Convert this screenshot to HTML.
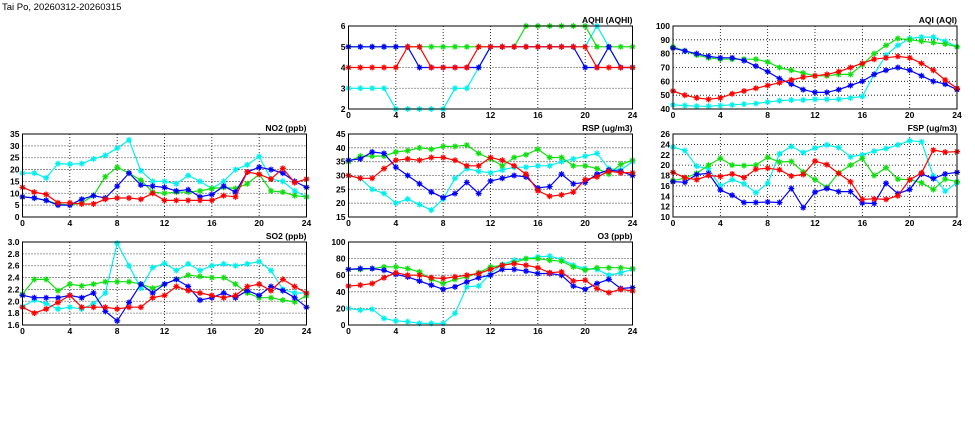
<!DOCTYPE html>
<html><head><meta charset="utf-8"><style>
html,body{margin:0;padding:0;background:#fff;width:975px;height:447px;overflow:hidden}
svg text{font-family:"Liberation Sans",sans-serif;font-size:8.5px;font-weight:bold;fill:#000}
</style></head><body>
<svg id="s" width="975" height="447" xmlns="http://www.w3.org/2000/svg">
<text x="2" y="10" style="font-weight:normal;font-size:9.5px">Tai Po, 20260312-20260315</text>
</svg>
<script>
const S=document.getElementById('s'),NS='http://www.w3.org/2000/svg';
function el(t,a,txt){const e=document.createElementNS(NS,t);for(const k in a)e.setAttribute(k,a[k]);if(txt!==undefined)e.textContent=txt;S.appendChild(e);return e;}
const C={c:'#00f0f0',g:'#10e010',b:'#0000ff',r:'#ff0000'};
const P=[
{x:348.5,y:26,t:'AQHI (AQHI)',min:2,max:6,step:1,dec:0,d:{
c:[3,3,3,3,2,2,2,2,2,3,3,4,5,5,5,5,5,5,5,5,5,6,5,4,4],
g:[5,5,5,5,5,5,5,5,5,5,5,5,5,5,5,6,6,6,6,6,6,5,5,5,5],
b:[5,5,5,5,5,5,4,4,4,4,4,4,5,5,5,5,5,5,5,5,4,4,5,4,4],
r:[4,4,4,4,4,5,5,4,4,4,4,5,5,5,5,5,5,5,5,5,5,4,4,4,4]}},
{x:673,y:26,t:'AQI (AQI)',min:40,max:100,step:10,dec:0,d:{
c:[43,42.5,42,42,42.5,43,43.5,44,45,46,46.5,46.5,47,47,47,48,49,65,79,86,91,92,92,89,85],
g:[85,82,79,77,76,76,76,76,74,70,68,66,64,64,65,65,72,80,86,91,90,89,88,87,85],
b:[84,82,80,78,77,77,75,71,67,62,58,54,52,52,54,57,60,65,68,70,68,64,60,58,54],
r:[53,50,48,47,48,51,53,55,57,59,61,63,64,65,67,70,73,76,77,78,77,73,68,61,55]}},
{x:22.5,y:134,t:'NO2 (ppb)',min:0,max:35,step:5,dec:0,d:{
c:[18.5,18.5,16.5,22.5,22.3,22.5,24.5,26,29,32.5,19.5,15,15,14,17.5,15,12,15,20,22,25.5,16,15,11,8.5],
g:[8.5,8,7,5.5,5,6,9,17,21,18.5,15.5,10.5,10,10.5,10.5,11,12,12.5,12,14,18,11,10.5,9,8.5],
b:[8.5,8,7,5,5,7.5,9,8,13,18.5,13.5,13,12.5,11,11.5,8.5,9.5,13,10.5,19,21,20,18.5,15,12.5],
r:[12.5,10.5,9.5,6,6,5.5,5.5,7.5,8,8,7.5,10,7,7,7,7,7,9,8.5,19,18,16,20.5,14.5,16]}},
{x:348.5,y:134,t:'RSP (ug/m3)',min:15,max:45,step:5,dec:0,d:{
c:[30,29,25,23.5,20,21.5,19.5,17.5,21.5,29,32.5,31.5,31,32,33,33,33.5,33.5,35,36,37,38,32.5,32,35],
g:[35,37,37,37,38.5,39,40,39.5,40.5,40.5,41,38,36,33.5,36.5,37.5,39.5,36.5,36.5,33.5,33.5,32.5,30.5,34,35.5],
b:[35.5,36,38.5,38,33,30,27,24,22,23.5,27.5,23.5,28,29,30,29.5,25.5,26,30.5,27,27.5,30.5,32,31.5,30],
r:[30,29,29,32.5,35.5,36,35.5,36.5,36.5,35.5,33.5,33.5,36.5,35.5,33.5,30.5,24.5,22.5,23,24,28.5,29.5,31.5,31,31]}},
{x:673,y:134,t:'FSP (ug/m3)',min:10,max:26,step:2,dec:0,d:{
c:[23.5,22.8,19.8,19.3,16,17.2,16.4,14.7,16.5,22.2,23.6,22.4,23.3,23.9,23.4,21.6,22,22.7,23.2,23.9,24.7,24.5,17.9,15,16.6],
g:[17,17.5,18.4,20,21.3,20,19.9,20,21.5,20.6,20.7,18.7,17.2,15.7,18.5,20,21.3,18,19.5,17.3,17.2,16.6,15.3,17.3,16.8],
b:[16.8,16.7,18.2,18.4,15.2,14.2,12.8,12.8,12.9,12.8,15.5,11.8,14.8,15.5,14.9,14.9,12.7,12.6,16.5,14.5,15.3,18.3,17.4,18.3,18.6],
r:[18.6,17.6,17.2,18,17.8,18.3,17.6,19.2,19.4,19.1,17.9,18.2,20.8,20.1,18.4,16.8,13.4,13.5,13.4,14.1,17.2,18.5,22.9,22.5,22.6]}},
{x:22.5,y:242,t:'SO2 (ppb)',min:1.6,max:3.0,step:0.2,dec:1,d:{
c:[1.91,2.02,1.96,1.87,1.9,1.87,1.96,2.14,2.98,2.6,2.22,2.57,2.64,2.52,2.63,2.52,2.6,2.63,2.6,2.63,2.67,2.52,2.2,2.14,2.14],
g:[2.12,2.37,2.37,2.18,2.29,2.26,2.29,2.33,2.33,2.33,2.29,2.22,2.29,2.37,2.44,2.42,2.4,2.4,2.29,2.14,2.06,2.06,2.02,1.99,2.09],
b:[2.1,2.06,2.06,2.06,2.1,2.06,2.14,1.83,1.67,1.98,2.29,2.14,2.29,2.37,2.25,2.02,2.06,2.14,2.06,2.18,2.1,2.25,2.18,2.06,1.9],
r:[1.9,1.8,1.87,1.98,2.1,1.9,1.9,1.9,1.87,1.9,1.9,2.06,2.1,2.25,2.18,2.14,2.1,2.06,2.1,2.25,2.29,2.18,2.37,2.25,2.14]}},
{x:348.5,y:242,t:'O3 (ppb)',min:0,max:100,step:20,dec:0,d:{
c:[20,18,19,8,5,4,2,2,2,14,46,47,62,73,78,80,82,83,79,72,68,67,60,63,67],
g:[67,67,68,70,70,68,64,55,50,55,58,63,70,72,75,80,80,78,77,70,66,69,69,69,68],
b:[67,68,68,66,61,58,53,48,43,46,52,57,60,67,67,65,62,62,60,47,43,50,55,44,45],
r:[47,48,50,57,63,60,60,57,56,58,60,62,67,72,74,72,69,63,64,53,54,44,39,43,41]}}
];
const W=284,H=83;
for(const p of P){
  const n=Math.round((p.max-p.min)/p.step);
  for(let i=0;i<=n;i++){
    const v=p.min+i*p.step, yy=p.y+H-i*H/n;
    if(i>0&&i<n) el('line',{x1:p.x,x2:p.x+W,y1:yy,y2:yy,stroke:'#000','stroke-width':0.8,'stroke-dasharray':'1,2'});
    el('text',{x:p.x-3,y:yy+3,'text-anchor':'end'},v.toFixed(p.dec));
  }
  for(let h=0;h<=24;h+=4){
    const xx=p.x+h*W/24;
    if(h>0&&h<24) el('line',{x1:xx,x2:xx,y1:p.y,y2:p.y+H,stroke:'#000','stroke-width':0.8,'stroke-dasharray':'1,2'});
    el('text',{x:xx,y:p.y+H+9,'text-anchor':'middle'},String(h));
  }
  el('text',{x:p.x+W,y:p.y-3,'text-anchor':'end'},p.t);
  for(const k of ['c','g','b','r']){
    const pts=p.d[k].map((v,i)=>[p.x+i*W/24,p.y+H-(v-p.min)/(p.max-p.min)*H]);
    el('polyline',{points:pts.map(q=>q[0].toFixed(1)+','+q[1].toFixed(1)).join(' '),fill:'none',stroke:C[k],'stroke-width':1.2});
    let d='';
    for(const [X,Y] of pts){const r=3;d+=`M${X-r},${Y}h${2*r}M${X},${Y-r}v${2*r}M${X-r*.7},${Y-r*.7}l${1.4*r},${1.4*r}M${X-r*.7},${Y+r*.7}l${1.4*r},${-1.4*r}`;}
    el('path',{d:d,stroke:C[k],'stroke-width':1.2,fill:'none'});
  }
  el('rect',{x:p.x,y:p.y,width:W,height:H,fill:'none',stroke:'#000','stroke-width':1});
}
</script>
</body></html>
